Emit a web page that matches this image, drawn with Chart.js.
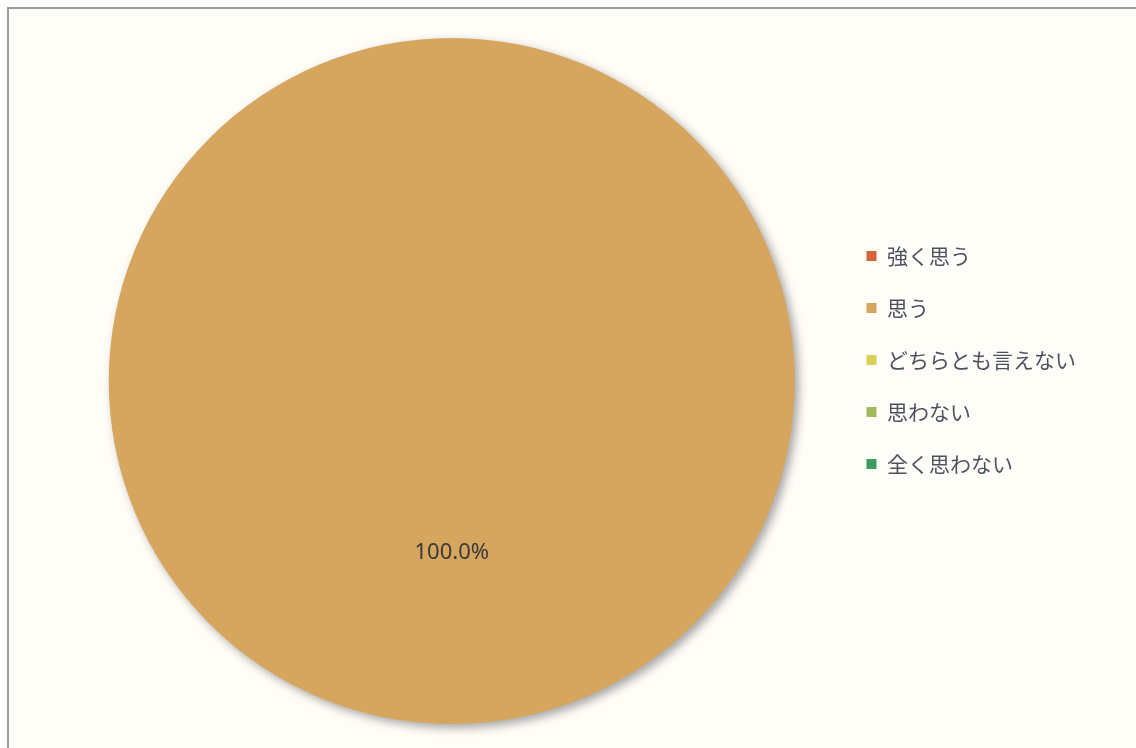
<!DOCTYPE html>
<html>
<head>
<meta charset="utf-8">
<script src="https://cdn.jsdelivr.net/npm/chart.js@4"></script>
<style>
  html, body { margin: 0; padding: 0; background: #ffffff; width: 1136px; height: 748px; overflow: hidden; }
  #frame { position: absolute; left: 7px; top: 7px; width: 1200px; height: 800px;
           border-left: 2px solid #9c9c9c; border-top: 2px solid #9c9c9c; background: #fffdf7; }
  #wrap { position: absolute; left: 0; top: 0; width: 1136px; height: 748px; }
</style>
</head>
<body>
<div id="frame"></div>
<div id="wrap"><canvas id="c" width="1136" height="748"></canvas></div>
<script>
const categories = ['強く思う', '思う', 'どちらとも言えない', '思わない', '全く思わない'];
const shares = [0, 100, 0, 0, 0];
const sliceColors = ['#d2643c', '#d6a55e', '#d8cf55', '#a0bb5c', '#3f9b5f'];

const pieShadow = {
  id: 'pieShadow',
  beforeDatasetsDraw(chart) {
    const ctx = chart.ctx;
    ctx.save();
    ctx.shadowColor = 'rgba(60,60,60,0.45)';
    ctx.shadowBlur = 10;
    ctx.shadowOffsetX = 4;
    ctx.shadowOffsetY = 4;
  },
  afterDatasetsDraw(chart) {
    chart.ctx.restore();
  }
};

const legendShift = {
  id: 'legendShift',
  afterLayout(chart) {
    const d = -21;
    chart.legend.top += d;
    chart.legend.bottom += d;
  }
};

const pctLabels = {
  id: 'pctLabels',
  afterDraw(chart) {
    const ctx = chart.ctx;
    const ds = chart.data.datasets[0];
    const total = ds.data.reduce((a, b) => a + b, 0);
    const meta = chart.getDatasetMeta(0);
    ctx.save();
    ctx.font = '22px "Noto Sans", "DejaVu Sans", sans-serif';
    ctx.fillStyle = '#3a3a3a';
    ctx.textAlign = 'center';
    ctx.textBaseline = 'middle';
    meta.data.forEach((arc, i) => {
      const v = ds.data[i];
      if (!v) return;
      const p = arc.getProps(['x', 'y', 'startAngle', 'endAngle', 'outerRadius'], true);
      const mid = (p.startAngle + p.endAngle) / 2;
      const r = p.outerRadius * 0.5;
      ctx.fillText((v / total * 100).toFixed(1) + '%', p.x + Math.cos(mid) * r, p.y + Math.sin(mid) * r);
    });
    ctx.restore();
  }
};

new Chart(document.getElementById('c'), {
  type: 'pie',
  data: {
    labels: categories,
    datasets: [{
      data: shares,
      backgroundColor: sliceColors,
      borderWidth: 0
    }]
  },
  options: {
    responsive: false,
    animation: false,
    radius: 343,
    layout: { padding: { left: 68, right: 50, top: 24, bottom: 10 } },
    plugins: {
      tooltip: { enabled: false },
      legend: {
        position: 'right',
        align: 'center',
        labels: {
          boxWidth: 10,
          boxHeight: 10,
          padding: 31,
          color: '#4d5260',
          font: { family: '"Noto Sans CJK JP", sans-serif', size: 21 }
        }
      }
    }
  },
  plugins: [pieShadow, legendShift, pctLabels]
});
</script>
</body>
</html>
